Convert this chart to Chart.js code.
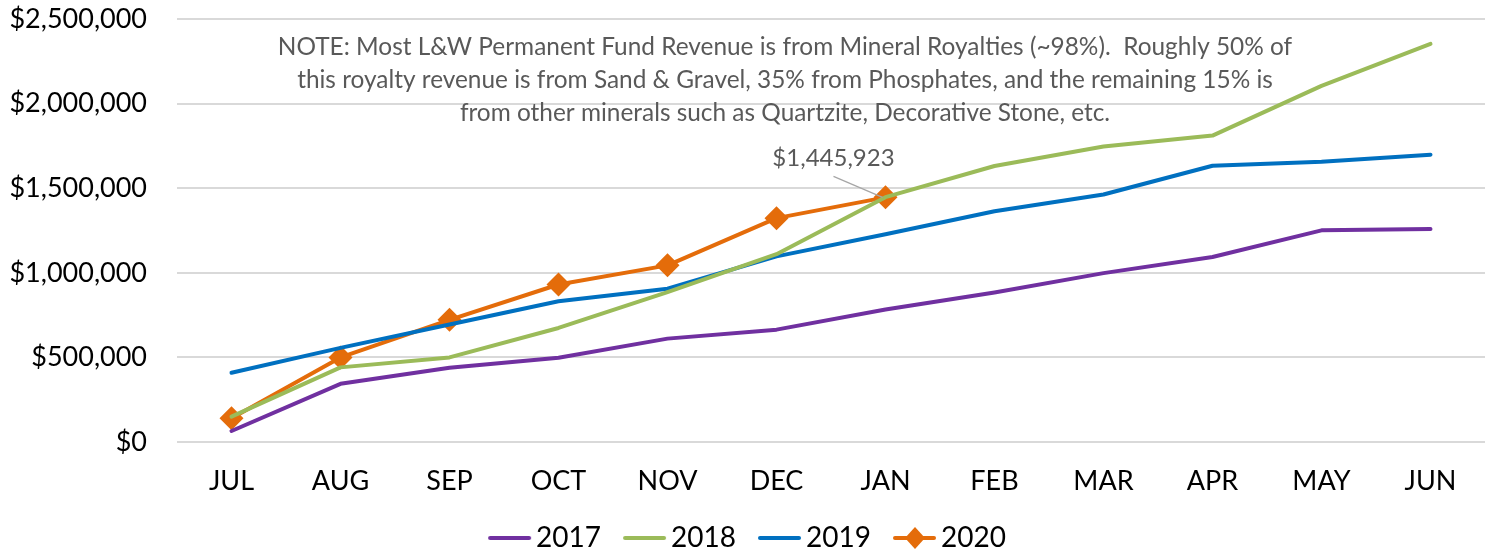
<!DOCTYPE html>
<html>
<head>
<meta charset="utf-8">
<script src="https://cdn.jsdelivr.net/npm/chart.js@4"></script>
<style>
  html, body { margin: 0; padding: 0; background: #fff; }
  #wrap { width: 1497px; height: 558px; }
</style>
</head>
<body>
<div id="wrap"><canvas id="chart"></canvas></div>
<script>
// data
const months = ['JUL', 'AUG', 'SEP', 'OCT', 'NOV', 'DEC', 'JAN', 'FEB', 'MAR', 'APR', 'MAY', 'JUN'];
const rev2017 = [65000, 344000, 439000, 498000, 611000, 664000, 783000, 884000, 998000, 1093000, 1251000, 1259000];
const rev2018 = [150000, 441000, 500000, 674000, 886000, 1110000, 1447000, 1631000, 1746000, 1811000, 2105000, 2353000];
const rev2019 = [409000, 556000, 694000, 832000, 906000, 1097000, 1228000, 1364000, 1463000, 1633000, 1657000, 1698000];
const rev2020 = [140000, 500000, 722000, 931000, 1044000, 1323000, 1445923, null, null, null, null, null];
const yTicks = [0, 500000, 1000000, 1500000, 2000000, 2500000];

const noteLines = [
  'NOTE: Most L&W Permanent Fund Revenue is from Mineral Royalties (~98%).  Roughly 50% of',
  'this royalty revenue is from Sand & Gravel, 35% from Phosphates, and the remaining 15% is',
  'from other minerals such as Quartzite, Decorative Stone, etc.'
];

const FONT = 'Lato, "Open Sans", sans-serif';
const money = v => '$' + Math.round(v).toLocaleString('en-US');

// legend swatches: a line, with a diamond for 2020
// (canvas is wider than the legend box and the line sits to its right,
//  so the gap to the label text is tight like in the original)
function swatch(color, diamond) {
  const c = document.createElement('canvas');
  c.width = 64; c.height = 26;
  const g = c.getContext('2d');
  g.strokeStyle = color;
  g.lineWidth = 4;
  g.lineCap = 'round';
  g.beginPath(); g.moveTo(18, 13); g.lineTo(57, 13); g.stroke();
  if (diamond) {
    g.fillStyle = color;
    g.beginPath();
    g.moveTo(38, 2); g.lineTo(48, 13); g.lineTo(38, 24); g.lineTo(28, 13);
    g.closePath(); g.fill();
  }
  return c;
}

const notePlugin = {
  id: 'notes',
  afterDatasetsDraw(chart) {
    const ctx = chart.ctx;
    ctx.save();
    ctx.fillStyle = '#595959';
    ctx.textAlign = 'center';
    ctx.textBaseline = 'middle';
    // size the note so its first line spans like in the picture
    ctx.font = '20px ' + FONT;
    const size = 20 * 1014 / ctx.measureText(noteLines[0]).width;
    ctx.font = size.toFixed(1) + 'px ' + FONT;
    noteLines.forEach((t, i) => ctx.fillText(t, 785, 47 + i * 33));

    // callout on the last 2020 point
    const meta = chart.getDatasetMeta(3);
    const pt = meta.data[6];
    if (pt) {
      const lx = pt.x - 52, ly = pt.y - 39;
      ctx.font = '24px ' + FONT;
      ctx.fillText(money(rev2020[6]), lx, ly);
      ctx.strokeStyle = '#a6a6a6';
      ctx.lineWidth = 1.2;
      ctx.beginPath();
      ctx.moveTo(lx, ly + 18);
      ctx.lineTo(pt.x - 3, pt.y);
      ctx.stroke();
    }
    ctx.restore();
  }
};

const series = [
  { label: '2017', data: rev2017, color: '#7030A0' },
  { label: '2018', data: rev2018, color: '#9BBB59' },
  { label: '2019', data: rev2019, color: '#0070C0' },
  { label: '2020', data: rev2020, color: '#E46C0A', marker: true }
];
const swatches = series.map(s => swatch(s.color, s.marker));

const ctx = document.getElementById('chart').getContext('2d');
new Chart(ctx, {
  type: 'line',
  data: {
    labels: months,
    datasets: series.map(s => ({
      label: s.label,
      data: s.data,
      borderColor: s.color,
      backgroundColor: s.color,
      borderWidth: 4,
      tension: 0,
      pointStyle: 'rectRot',
      pointRadius: s.marker ? 12 : 0,
      pointHoverRadius: s.marker ? 12 : 0,
      pointBorderWidth: 0,
      borderCapStyle: 'round',
      borderJoinStyle: 'round'
    }))
  },
  options: {
    responsive: true,
    maintainAspectRatio: false,
    animation: false,
    layout: { padding: { top: 19, right: 5, left: 0, bottom: -4 } },
    scales: {
      x: {
        offset: true,
        grid: { display: false },
        border: { display: false },
        ticks: { color: '#000', font: { family: FONT, size: 27 }, padding: 15 },
        afterFit: s => { s.height = 62; }
      },
      y: {
        min: 0,
        max: 2500000,
        afterBuildTicks: s => { s.ticks = yTicks.map(v => ({ value: v })); },
        grid: { color: '#d9d9d9', lineWidth: 2, drawTicks: false },
        border: { display: false },
        ticks: { color: '#000', font: { family: FONT, size: 27 }, padding: 30, callback: v => money(v) },
        afterFit: s => { s.width = 177; s.paddingTop = 0; s.paddingBottom = 0; }
      }
    },
    plugins: {
      tooltip: { enabled: false },
      legend: {
        position: 'bottom',
        labels: {
          usePointStyle: true,
          pointStyleWidth: 36,
          color: '#000',
          font: { family: FONT, size: 28 },
          padding: 20,
          generateLabels: chart => chart.data.datasets.map((d, i) => ({
            text: d.label,
            pointStyle: swatches[i],
            fillStyle: d.borderColor,
            strokeStyle: d.borderColor,
            lineWidth: 0,
            fontColor: '#000',
            datasetIndex: i,
            hidden: false
          }))
        }
      }
    }
  },
  plugins: [notePlugin]
});
</script>
</body>
</html>
